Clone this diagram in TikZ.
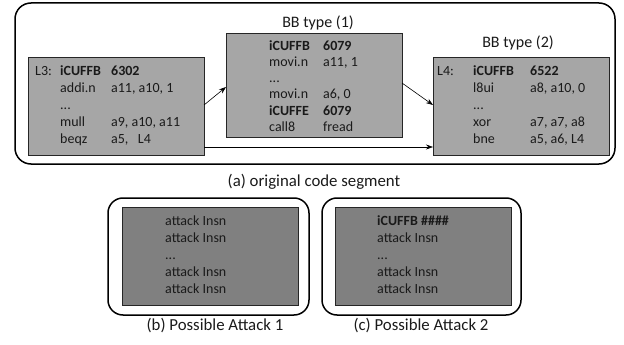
\documentclass[tikz,border=0pt]{standalone}
\usepackage{fontspec}
\setmainfont{Carlito}
\usetikzlibrary{arrows.meta}
\definecolor{boxtop}{HTML}{A6A6A6}
\definecolor{boxbot}{HTML}{808080}
\definecolor{txt}{HTML}{1A1A1A}
\begin{document}
\begin{tikzpicture}[x=1pt,y=-1pt,
  frame/.style={draw=black,line width=1.5pt,rounded corners=16pt},
  codebox/.style={draw=black!85,line width=0.8pt,fill=boxtop},
  attbox/.style={draw=black!85,line width=0.8pt,fill=boxbot},
  code/.style={inner sep=0pt,anchor=west,text=txt,font=\fontsize{14}{17}\selectfont},
  lbl/.style={inner sep=0pt,text=txt,font=\fontsize{16}{18}\selectfont},
  captxt/.style={inner sep=0pt,text=txt,font=\fontsize{16.8}{19}\selectfont},
  conn/.style={draw=black,line width=0.6pt,-{Stealth[length=7pt,width=5pt]}}]
\useasboundingbox (0,0) rectangle (624,345);
% (a) frame
\draw[frame] (15,3) rectangle (615,164);
\node[codebox,minimum width=176pt,minimum height=98pt,anchor=north west] (l3) at (28,57) {};
\node[codebox,minimum width=176pt,minimum height=104pt,anchor=north west] (bb1) at (226,33) {};
\node[codebox,minimum width=176pt,minimum height=98pt,anchor=north west] (l4) at (433,57) {};
\node[code] (l3t) at (35,106) {\begin{tabular}{@{}p{25pt}@{}p{51pt}@{}l@{}}
L3: & \textbf{iCUFFB} & \textbf{6302}\\
 & addi.n & a11, a10, 1\\
 & ... & \\
 & mull & a9, a10, a11\\
 & beqz & a5,\ \ \ L4
\end{tabular}};
\node[code,font=\fontsize{14}{16.3}\selectfont] (bb1t) at (269,87.5) {\begin{tabular}{@{}p{54pt}@{}l@{}}
\textbf{iCUFFB} & \textbf{6079}\\
movi.n & a11, 1\\
... & \\
movi.n & a6, 0\\
\textbf{iCUFFE} & \textbf{6079}\\
call8 & fread
\end{tabular}};
\node[code] (l4t) at (437,106) {\begin{tabular}{@{}p{36pt}@{}p{57pt}@{}l@{}}
L4: & \textbf{iCUFFB} & \textbf{6522}\\
 & l8ui & a8, a10, 0\\
 & ... & \\
 & xor & a7, a7, a8\\
 & bne & a5, a6, L4
\end{tabular}};
\node[lbl] (lbl1) at (318,23) {BB type (1)};
\node[lbl] (lbl2) at (518,43) {BB type (2)};
\coordinate (a1) at (204,105); \coordinate (a2) at (226,87);
\coordinate (b1) at (402,83); \coordinate (b2) at (433,105);
\coordinate (c1) at (204,147); \coordinate (c2) at (433,147);
\draw[conn] (a1) -- (a2);
\draw[conn] (b1) -- (b2);
\draw[conn] (c1) -- (c2);
\node[captxt] (capa) at (314,182) {(a) original code segment};
% (b)
\draw[frame,rounded corners=15pt] (108,198) rectangle (309,315);
\node[attbox,minimum width=176pt,minimum height=98pt,anchor=north west] (att1) at (122,207) {};
\node[code] (att1t) at (165,256) {\begin{tabular}{@{}l@{}}
attack Insn\\ attack Insn\\ ...\\ attack Insn\\ attack Insn
\end{tabular}};
\node[captxt] (capb) at (215,326) {(b) Possible Attack 1};
% (c)
\draw[frame,rounded corners=15pt] (322,198) rectangle (521,315);
\node[attbox,minimum width=176pt,minimum height=98pt,anchor=north west] (att2) at (335,207) {};
\node[code] (att2t) at (377,256) {\begin{tabular}{@{}l@{}}
\textbf{iCUFFB \#\#\#\#}\\ attack Insn\\ ...\\ attack Insn\\ attack Insn
\end{tabular}};
\node[captxt] (capc) at (421,326) {(c) Possible Attack 2};
\end{tikzpicture}
\end{document}
